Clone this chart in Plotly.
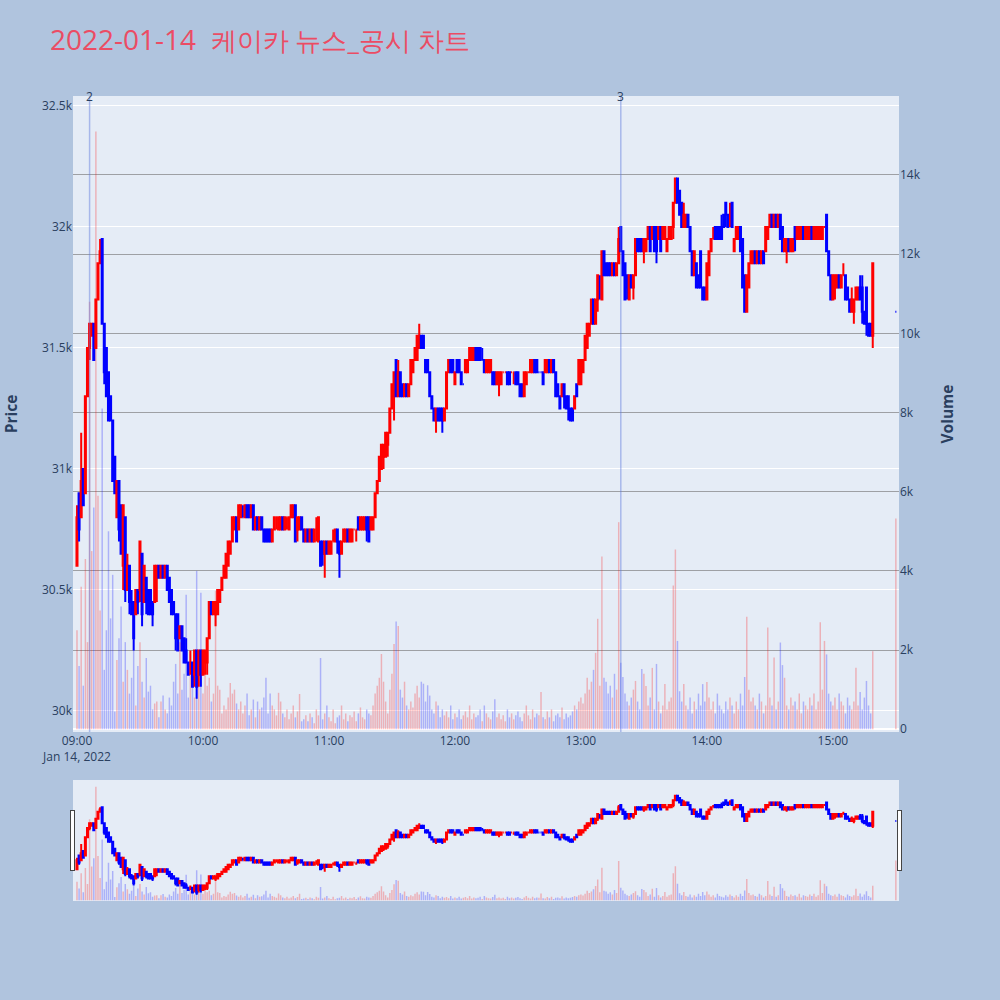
import pandas as pd
import plotly.graph_objects as go

# ---------------- data (1-minute candles, 2022-01-14) ----------------
minute_times = list(pd.date_range("2022-01-14 09:00", "2022-01-14 15:19", freq="1min")) + [pd.Timestamp("2022-01-14 15:30")]

open_p = [
30600,30900,30800,31000,30900,31300,31500,31550,31600,31500,
31700,31850,31950,31600,31500,31400,31300,31200,31050,30800,
30950,30850,30600,30800,30500,30600,30450,30450,30400,30500,
30500,30650,30450,30550,30500,30500,30450,30450,30550,30600,
30550,30600,30550,30600,30550,30500,30450,30400,30400,30300,
30350,30300,30250,30200,30200,30200,30150,30250,30150,30250,
30150,30200,30200,30300,30450,30400,30400,30400,30450,30500,
30550,30550,30600,30650,30700,30750,30800,30750,30800,30800,
30800,30850,30850,30800,30850,30750,30800,30750,30800,30750,
30750,30750,30750,30700,30750,30800,30750,30750,30800,30750,
30800,30750,30800,30800,30850,30750,30750,30800,30750,30700,
30750,30700,30750,30700,30750,30700,30700,30700,30650,30700,
30650,30650,30700,30700,30750,30700,30650,30700,30700,30750,
30700,30700,30750,30750,30800,30750,30750,30750,30800,30800,
30750,30750,30800,30900,30950,31000,31050,31050,31100,31150,
31250,31300,31450,31300,31400,31350,31300,31350,31300,31350,
31400,31450,31450,31500,31550,31550,31450,31450,31400,31300,
31250,31200,31250,31250,31250,31200,31250,31400,31450,31450,
31350,31450,31450,31400,31350,31400,31400,31450,31450,31450,
31500,31500,31500,31450,31450,31400,31400,31400,31400,31400,
31350,31350,31350,31400,31400,31400,31400,31400,31400,31400,
31400,31350,31350,31300,31350,31400,31400,31400,31450,31450,
31400,31400,31400,31400,31400,31450,31400,31450,31400,31350,
31300,31300,31350,31300,31300,31250,31250,31250,31350,31350,
31350,31400,31450,31500,31550,31600,31700,31600,31700,31750,
31700,31900,31850,31850,31850,31800,31850,31800,31850,32000,
31900,31850,31800,31700,31800,31750,31800,31950,31950,31950,
31900,31900,31950,32000,31950,32000,32000,31950,32000,31950,
31950,31900,31950,31950,32000,32100,32200,32150,32100,32000,
32000,32050,32000,31900,31800,31850,31800,31900,31750,31750,
31700,31800,31900,31950,32000,32000,32000,32000,32050,32100,
32050,32050,32100,31900,31950,31950,32000,31950,31800,31650,
31750,31850,31850,31900,31850,31900,31850,31900,31900,31950,
32000,32050,32000,32050,32000,32050,32000,31900,31900,31950,
31900,31900,32000,31950,31950,31950,32000,31950,31950,31950,
32000,31950,31950,31950,31950,31950,32000,32050,31900,31800,
31700,31750,31750,31800,31750,31800,31800,31750,31700,31650,
31650,31700,31700,31750,31750,31650,31750,31600,31600,31550,
31650]

high_p = [
30850,30900,31150,31000,31300,31500,31600,31600,31600,31700,
31850,31950,31950,31600,31500,31400,31300,31200,31050,30950,
30950,30850,30850,30800,30650,30600,30500,30450,30500,30500,
30700,30650,30600,30550,30500,30500,30450,30600,30600,30600,
30600,30600,30600,30600,30550,30500,30450,30400,30400,30350,
30350,30300,30300,30200,30250,30200,30250,30250,30250,30250,
30250,30250,30300,30450,30450,30450,30450,30500,30500,30550,
30600,30650,30700,30700,30800,30800,30800,30850,30850,30850,
30850,30850,30850,30850,30850,30800,30800,30800,30800,30750,
30750,30750,30750,30750,30800,30800,30800,30800,30800,30800,
30800,30800,30850,30850,30850,30800,30800,30800,30750,30750,
30750,30750,30750,30750,30800,30800,30700,30700,30700,30700,
30700,30700,30750,30750,30750,30700,30700,30750,30750,30750,
30750,30750,30750,30750,30800,30800,30800,30800,30800,30800,
30800,30800,30900,30950,31050,31100,31100,31150,31150,31250,
31350,31400,31450,31450,31400,31350,31350,31350,31350,31450,
31450,31500,31550,31600,31550,31550,31450,31450,31400,31300,
31250,31250,31250,31250,31250,31250,31400,31450,31450,31450,
31400,31450,31450,31400,31350,31450,31450,31500,31500,31500,
31500,31500,31500,31500,31450,31450,31450,31450,31400,31400,
31400,31400,31400,31400,31400,31400,31400,31400,31400,31400,
31400,31350,31350,31400,31400,31400,31450,31450,31450,31450,
31400,31400,31400,31450,31450,31450,31450,31450,31400,31350,
31300,31350,31350,31300,31300,31250,31250,31300,31350,31450,
31450,31450,31550,31600,31600,31700,31700,31700,31800,31800,
31900,31900,31850,31850,31850,31850,31850,31850,32000,32000,
31900,31850,31800,31800,31800,31800,31950,31950,31950,31950,
31950,31950,32000,32000,32000,32000,32000,32000,32000,32000,
32000,31950,32000,32000,32100,32200,32200,32150,32100,32100,
32050,32050,32000,31900,31900,31850,31800,31900,31750,31750,
31850,31900,31950,32000,32000,32000,32000,32050,32050,32100,
32050,32100,32100,31950,32000,32000,32000,31950,31800,31800,
31850,31900,31900,31900,31900,31900,31900,31900,32000,32000,
32050,32050,32050,32050,32050,32050,32000,31950,31950,31950,
31950,31950,32000,32000,32000,32000,32000,32000,32000,32000,
32000,32000,32000,32000,32000,32000,32000,32050,31900,31800,
31800,31800,31800,31800,31800,31850,31800,31750,31700,31750,
31700,31750,31750,31800,31800,31650,31750,31600,31600,31850,
31650]

low_p = [
30600,30700,30800,30850,30900,31300,31450,31550,31450,31500,
31700,31850,31600,31350,31300,31200,31200,30950,30900,30800,
30700,30650,30500,30450,30500,30400,30400,30250,30400,30400,
30450,30350,30450,30400,30400,30400,30350,30450,30450,30550,
30550,30550,30550,30500,30450,30400,30400,30250,30250,30300,
30250,30200,30200,30150,30150,30100,30100,30050,30100,30100,
30150,30150,30150,30300,30400,30400,30350,30400,30450,30500,
30550,30550,30600,30650,30700,30750,30700,30750,30800,30800,
30800,30800,30800,30800,30750,30750,30750,30750,30750,30700,
30700,30700,30700,30700,30750,30750,30750,30750,30750,30750,
30750,30750,30800,30800,30700,30700,30750,30750,30700,30700,
30700,30700,30700,30700,30700,30700,30600,30600,30550,30650,
30650,30650,30700,30700,30650,30550,30650,30700,30700,30700,
30700,30700,30750,30700,30750,30750,30750,30750,30700,30700,
30750,30750,30800,30900,30950,31000,31000,31050,31050,31150,
31250,31200,31300,31300,31300,31300,31300,31300,31300,31350,
31400,31450,31450,31500,31500,31500,31400,31400,31300,31250,
31200,31150,31200,31200,31150,31200,31250,31400,31400,31400,
31350,31400,31400,31350,31350,31400,31400,31450,31450,31450,
31450,31450,31450,31450,31400,31400,31400,31400,31350,31350,
31350,31300,31350,31400,31400,31350,31350,31400,31350,31350,
31350,31300,31300,31300,31350,31400,31400,31400,31400,31400,
31400,31400,31350,31400,31400,31400,31400,31400,31300,31300,
31250,31300,31250,31250,31200,31200,31200,31250,31300,31350,
31350,31400,31450,31500,31550,31600,31600,31600,31650,31700,
31700,31800,31800,31800,31800,31800,31800,31800,31850,31900,
31800,31700,31700,31700,31750,31700,31800,31900,31900,31900,
31850,31900,31950,31900,31950,31900,31850,31950,31900,31950,
31950,31900,31950,31950,31950,32100,32100,32050,32000,32000,
32000,32000,31900,31800,31800,31750,31750,31750,31700,31700,
31700,31800,31900,31950,31950,31950,31950,31950,32000,32000,
32000,32000,32000,31900,31950,31950,31900,31750,31650,31650,
31750,31850,31850,31850,31850,31850,31850,31850,31900,31950,
32000,32000,32000,32000,32000,31950,31900,31900,31850,31900,
31900,31900,31900,31950,31950,31950,31950,31950,31950,31950,
31950,31950,31950,31950,31950,31950,32000,31900,31800,31700,
31700,31700,31750,31750,31750,31800,31700,31700,31650,31650,
31600,31700,31700,31700,31600,31600,31550,31550,31550,31500,
31650]

close_p = [
30800,30750,30950,30850,31300,31500,31600,31600,31450,31700,
31850,31900,31600,31400,31300,31200,31200,30950,30900,30950,
30750,30650,30850,30500,30600,30450,30400,30300,30500,30450,
30700,30400,30600,30450,30400,30400,30400,30600,30600,30550,
30600,30550,30600,30500,30450,30400,30400,30300,30250,30350,
30250,30200,30200,30150,30200,30100,30250,30100,30250,30150,
30250,30250,30300,30450,30400,30450,30450,30500,30500,30550,
30600,30650,30700,30700,30800,30800,30700,30850,30850,30800,
30850,30800,30800,30850,30750,30800,30750,30800,30750,30700,
30700,30700,30700,30750,30800,30800,30800,30800,30750,30800,
30800,30800,30850,30850,30700,30800,30800,30750,30700,30750,
30700,30750,30700,30750,30750,30800,30600,30650,30700,30650,
30700,30700,30700,30750,30700,30650,30700,30750,30750,30700,
30750,30750,30750,30750,30750,30800,30800,30800,30750,30700,
30800,30800,30900,30950,31050,31100,31100,31150,31150,31250,
31350,31400,31300,31400,31300,31300,31350,31300,31350,31450,
31450,31500,31550,31550,31500,31500,31400,31400,31300,31250,
31200,31250,31200,31200,31200,31250,31400,31450,31400,31400,
31400,31400,31400,31350,31350,31450,31450,31500,31500,31500,
31450,31450,31450,31450,31400,31450,31450,31450,31350,31350,
31400,31400,31400,31400,31400,31350,31350,31400,31400,31350,
31350,31300,31300,31400,31400,31400,31450,31450,31400,31400,
31400,31400,31350,31450,31450,31400,31450,31400,31300,31300,
31250,31350,31300,31250,31250,31200,31200,31300,31300,31450,
31450,31450,31550,31600,31600,31700,31600,31700,31800,31750,
31900,31800,31800,31800,31800,31850,31800,31850,31950,31900,
31800,31700,31750,31800,31750,31800,31950,31900,31900,31900,
31950,31950,32000,31900,32000,31900,31900,32000,31900,32000,
32000,31950,32000,32000,32100,32200,32100,32050,32000,32050,
32050,32000,31900,31800,31900,31750,31750,31750,31700,31700,
31850,31900,31950,31950,31950,31950,31950,31950,32000,32050,
32000,32050,32000,31950,32000,32000,31900,31750,31650,31800,
31850,31900,31900,31850,31900,31850,31900,31850,32000,32000,
32050,32000,32050,32000,32050,31950,31900,31950,31950,31900,
31950,31950,31950,32000,32000,32000,31950,32000,32000,32000,
31950,32000,32000,32000,32000,32000,32000,31900,31800,31700,
31800,31800,31800,31750,31800,31800,31700,31700,31650,31700,
31700,31750,31750,31700,31650,31600,31600,31550,31550,31850,
31650]

volume = [
2500,1600,3600,1100,4300,2200,10800,4500,5600,15100,
5900,3000,8100,1500,2500,5000,2800,3900,450,1750,
2300,3100,1200,2200,1500,900,1300,2000,600,1600,
2200,1200,800,1800,950,1100,500,650,700,300,
700,850,500,400,800,600,1200,1650,900,2200,
1000,1400,3400,800,1900,1300,800,4000,1200,3450,
900,1700,1100,1300,700,900,3500,1100,1000,400,
600,500,800,1170,900,1000,650,500,700,400,
600,900,350,500,750,300,700,500,550,800,
1300,400,900,600,500,350,920,700,400,300,
500,250,400,600,300,450,890,200,250,350,
200,400,300,150,500,350,1800,250,400,600,
300,200,500,150,300,350,600,250,400,200,
350,300,450,200,400,550,300,250,500,400,
350,600,900,1100,1300,1900,1200,700,400,1000,
1400,2150,2720,2610,1000,800,1200,600,500,700,
550,900,1100,800,1200,1150,700,1110,850,500,
400,700,600,300,500,350,450,300,600,250,
400,300,500,250,350,450,300,600,250,400,
300,350,500,200,600,400,300,250,450,760,
300,400,250,350,200,500,300,400,250,350,
450,300,200,400,600,350,250,500,300,400,
350,940,300,250,450,300,500,200,350,400,
300,550,250,400,300,350,450,600,500,700,
800,650,900,1300,1000,1200,1500,1930,2790,1100,
4360,1300,1200,900,1100,800,1400,1000,5230,1680,
1320,900,700,600,800,1000,1220,700,500,1520,
1400,1090,600,800,1550,500,1650,700,400,600,
1140,500,700,800,3630,4540,2230,960,700,1140,
600,500,800,400,700,500,900,600,1140,700,
1190,800,500,700,400,900,600,500,400,700,
500,800,600,400,700,500,900,600,1320,2840,
1000,700,800,600,500,900,700,400,600,2570,
800,600,1810,500,700,2190,1620,1300,600,500,
800,600,700,500,900,400,700,600,500,800,
600,900,500,700,2700,1000,2230,1890,900,700,
600,800,500,900,700,600,400,800,600,500,
700,1550,600,940,500,800,1220,600,400,1970,
5320]

event_times = ["2022-01-14 09:06", "2022-01-14 13:19"]
event_labels = ["2", "3"]

title_date = "2022-01-14"
title_words = "케이카 뉴스_공시 차트"

# ---------------- figure ----------------
bar_colors = ["rgba(255,0,0,0.25)" if c >= o else "rgba(0,0,255,0.25)"
              for o, c in zip(open_p, close_p)]

fig = go.Figure()
fig.add_trace(go.Candlestick(
    x=minute_times, open=open_p, high=high_p, low=low_p, close=close_p,
    increasing=dict(line=dict(color="red", width=2), fillcolor="red"),
    decreasing=dict(line=dict(color="blue", width=2), fillcolor="blue"),
    name="Price", showlegend=False, yaxis="y"))
fig.add_trace(go.Bar(
    x=minute_times, y=volume, marker=dict(color=bar_colors, line=dict(width=0)),
    name="Volume", showlegend=False, yaxis="y2"))

x_range = ["2022-01-14 08:58:06", "2022-01-14 15:31:30"]

shapes = []
annotations = []
for t, lab in zip(event_times, event_labels):
    shapes.append(dict(type="line", xref="x", yref="paper", x0=t, x1=t, y0=0, y1=1,
                       line=dict(color="rgba(90,120,220,0.45)", width=1.5)))
    annotations.append(dict(x=t, y=1, xref="x", yref="paper", text=lab, showarrow=False,
                            yanchor="middle", font=dict(size=12, color="#2a3f5f")))

title_html = f"{title_date}  <span style='font-size:26px'>{title_words}</span>"

fig.update_layout(
    width=1000, height=1000,
    template="plotly",
    paper_bgcolor="lightsteelblue",
    title=dict(text=title_html, x=0.05, y=0.96, yanchor="middle",
               font=dict(size=28, color="#EB4C64")),
    margin=dict(l=73, r=101, t=96, b=100),
    showlegend=False,
    bargap=0.3,
    shapes=shapes,
    annotations=annotations,
    xaxis=dict(type="date", range=x_range, showgrid=False,
               rangeslider=dict(visible=True, range=x_range)),
    yaxis=dict(title=dict(text="<b>Price</b>", font=dict(size=15.5), standoff=22),
               range=[29913, 32541], showgrid=True, automargin=False),
    yaxis2=dict(title=dict(text="<b>Volume</b>", font=dict(size=15.5), standoff=22),
                overlaying="y", side="right", automargin=False,
                range=[-70, 15995], showgrid=True, gridcolor="rgba(110,110,110,0.6)",
                zeroline=True, zerolinecolor="white"),
)

fig.write_html("out.html", config={"displayModeBar": False},
               post_script="document.body.style.margin='0px';")
